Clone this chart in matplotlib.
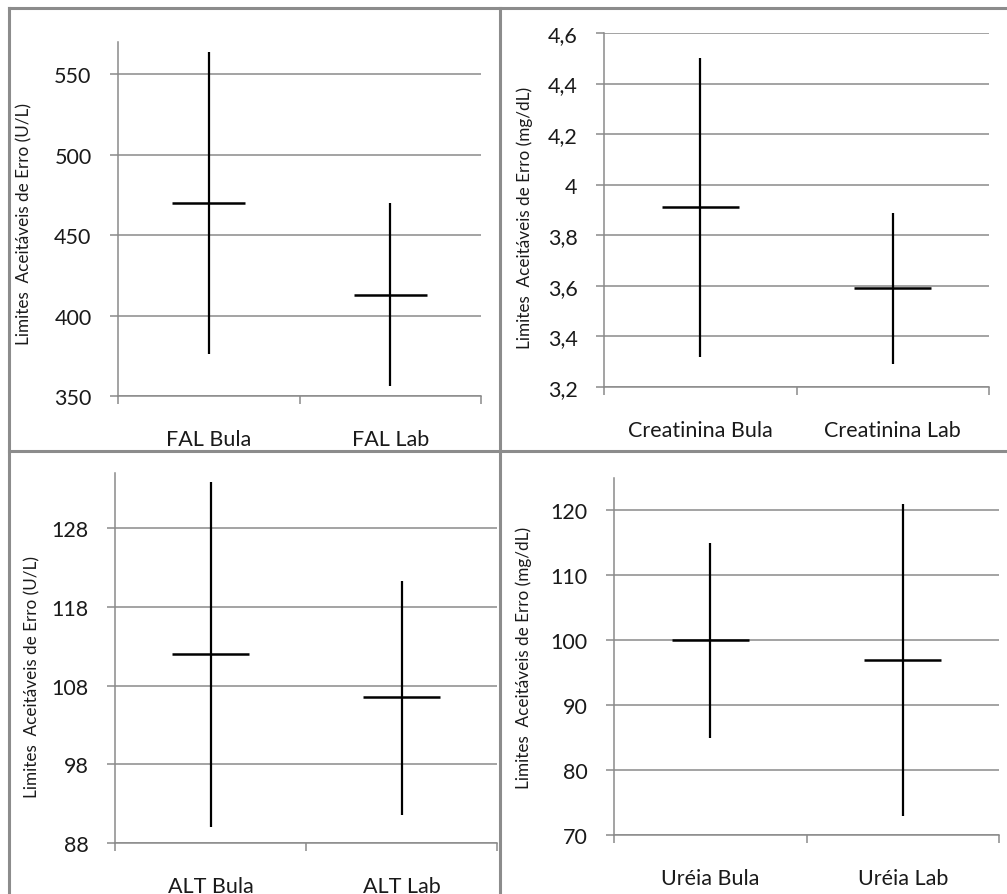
import matplotlib
matplotlib.use("Agg")
import matplotlib.pyplot as plt
from matplotlib.lines import Line2D

plt.rcParams['font.family'] = ['Lato', 'DejaVu Sans']

W, H = 1007, 895
GRAY = '#8a8a8a'

# ---------------- data ----------------
fal_categories = ["FAL Bula", "FAL Lab"]
fal_low = [376, 356.5]
fal_high = [564, 470]
fal_mean = [470, 412.6]
fal_ticks = [350, 400, 450, 500, 550]
fal_ticklabels = ["350", "400", "450", "500", "550"]
fal_ylim = (350, 570)

creat_categories = ["Creatinina Bula", "Creatinina Lab"]
creat_low = [3.32, 3.29]
creat_high = [4.50, 3.89]
creat_mean = [3.91, 3.59]
creat_ticks = [3.2, 3.4, 3.6, 3.8, 4.0, 4.2, 4.4, 4.6]
creat_ticklabels = ["3,2", "3,4", "3,6", "3,8", "4", "4,2", "4,4", "4,6"]
creat_ylim = (3.2, 4.6)

alt_categories = ["ALT Bula", "ALT Lab"]
alt_low = [90.0, 91.6]
alt_high = [133.8, 121.3]
alt_mean = [112.0, 106.5]
alt_ticks = [88, 98, 108, 118, 128]
alt_ticklabels = ["88", "98", "108", "118", "128"]
alt_ylim = (88, 135)

ureia_categories = ["Uréia Bula", "Uréia Lab"]
ureia_low = [85, 73]
ureia_high = [115, 121]
ureia_mean = [100, 97]
ureia_ticks = [70, 80, 90, 100, 110, 120]
ureia_ticklabels = ["70", "80", "90", "100", "110", "120"]
ureia_ylim = (70, 125)

ylabel_ul = "Limites  Aceitáveis de Erro (U/L)"
ylabel_mgdl = "Limites  Aceitáveis de Erro (mg/dL)"

fig = plt.figure(figsize=(W / 100, H / 100), dpi=100)


def px_axes(left, right, top, bottom):
    return fig.add_axes([left / W, 1 - bottom / H, (right - left) / W, (bottom - top) / H])


def panel(ax, cats, low, high, mean, ticks, ticklabels, ylim, ylabel, lab_x, lab_y):
    x = list(range(len(cats)))
    ax.set_xlim(-0.5, len(cats) - 0.5)
    ax.set_ylim(*ylim)
    ax.set_yticks(ticks)
    ax.set_yticklabels(ticklabels)
    ax.grid(axis='y', color=GRAY, linewidth=1.1)
    ax.set_axisbelow(True)
    ax.vlines(x, low, high, colors='black', linewidth=1.6, zorder=3)
    ax.hlines(mean, [xi - 0.2 for xi in x], [xi + 0.2 for xi in x],
              colors='black', linewidth=1.8, zorder=3)
    for s in ('top', 'right'):
        ax.spines[s].set_visible(False)
    for s in ('left', 'bottom'):
        ax.spines[s].set_color(GRAY)
        ax.spines[s].set_linewidth(1.1)
    ax.set_xticks([xi - 0.5 for xi in x] + [len(cats) - 0.5])
    ax.set_xticklabels([])
    ax.set_xticks(x, minor=True)
    ax.set_xticklabels(cats, minor=True)
    ax.tick_params(axis='x', which='major', length=6, width=1.1, color=GRAY, direction='out')
    ax.tick_params(axis='x', which='minor', length=0, pad=24, labelsize=15.5,
                   labelcolor='#1a1a1a')
    ax.tick_params(axis='y', length=6, width=1.1, color=GRAY, direction='out',
                   pad=13, labelsize=15.5, labelcolor='#1a1a1a')
    ax.set_ylabel(ylabel, fontsize=12.3, color='#1a1a1a')
    ax.yaxis.set_label_coords(lab_x, lab_y)


ax1 = px_axes(118, 481, 43, 397)
panel(ax1, fal_categories, fal_low, fal_high, fal_mean, fal_ticks, fal_ticklabels,
      fal_ylim, ylabel_ul, -0.237, 0.49)

ax2 = px_axes(604, 989, 34, 388)
panel(ax2, creat_categories, creat_low, creat_high, creat_mean, creat_ticks,
      creat_ticklabels, creat_ylim, ylabel_mgdl, -0.184, 0.48)

ax3 = px_axes(115, 497, 474, 844)
panel(ax3, alt_categories, alt_low, alt_high, alt_mean, alt_ticks, alt_ticklabels,
      alt_ylim, ylabel_ul, -0.194, 0.45)

ax4 = px_axes(614, 999, 479, 836)
panel(ax4, ureia_categories, ureia_low, ureia_high, ureia_mean, ureia_ticks,
      ureia_ticklabels, ureia_ylim, ylabel_mgdl, -0.213, 0.5)

# panel frame lines
FRAME = '#8c8c8c'
lw = 2.2
frame_lines = [
    ((9, 9), (9, H)),        # left border
    ((9, W), (9, 9)),        # top border
    ((500, 500), (9, H)),    # vertical divider
    ((9, W), (452, 452)),    # horizontal divider
]
for xs, ys in frame_lines:
    fig.add_artist(Line2D([v / W for v in xs], [1 - v / H for v in ys],
                          transform=fig.transFigure, color=FRAME, linewidth=lw))

fig.savefig("out.png", dpi=100, facecolor='white')
